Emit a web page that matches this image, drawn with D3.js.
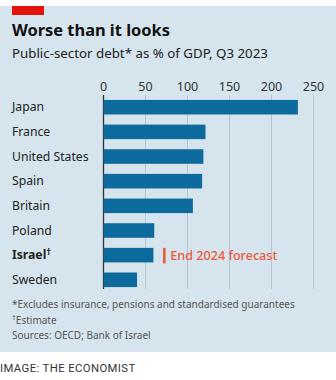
<!DOCTYPE html>
<html>
<head>
<meta charset="utf-8">
<script src="https://cdn.jsdelivr.net/npm/d3@7"></script>
<style>
  body { margin: 0; background: #fff; }
  svg { display: block; }
</style>
</head>
<body>
<div id="chart"></div>
<script>
// data
const countries = ["Japan", "France", "United States", "Spain", "Britain", "Poland", "Israel", "Sweden"];
const debt = [232, 122, 119.5, 118, 107, 61, 60, 40.5];
const ticks = [0, 50, 100, 150, 200, 250];
const israelForecast = 73;

const W = 336, H = 380;
const font = "'Noto Sans', 'Open Sans', sans-serif";

const svg = d3.select("#chart").append("svg")
    .attr("width", W)
    .attr("height", H);

// panel background
svg.append("rect")
    .attr("x", 0).attr("y", 6)
    .attr("width", W).attr("height", 346)
    .attr("fill", "#d5e4ed");

// red tag
svg.append("rect")
    .attr("x", 12).attr("y", 6)
    .attr("width", 32).attr("height", 9)
    .attr("fill", "#e3120b");

svg.append("text")
    .attr("x", 12).attr("y", 36)
    .attr("font-family", font)
    .attr("font-size", 16.4)
    .attr("font-weight", "bold")
    .attr("fill", "#111")
    .text("Worse than it looks");

svg.append("text")
    .attr("x", 12).attr("y", 58)
    .attr("font-family", font)
    .attr("font-size", 13.3)
    .attr("fill", "#222")
    .text("Public-sector debt* as % of GDP, Q3 2023");

const x = d3.scaleLinear()
    .domain([0, 250])
    .range([103, 313]);

const y = d3.scaleBand()
    .domain(countries)
    .range([95, 292])
    .paddingInner(0.41)
    .paddingOuter(0.2);

// gridlines + tick labels
const axis = svg.append("g")
    .attr("transform", "translate(0,95)")
    .call(d3.axisTop(x).tickValues(ticks).tickSize(-194).tickPadding(4));
axis.select(".domain").remove();
axis.selectAll(".tick line")
    .attr("stroke", d => d === 0 ? "#333" : "#b5c6d1")
    .attr("stroke-width", d => d === 0 ? 1.3 : 1);
axis.selectAll(".tick text")
    .attr("font-family", font)
    .attr("font-size", 12.5)
    .attr("fill", "#333");

// bars
svg.append("g").selectAll("rect")
    .data(countries)
    .join("rect")
    .attr("x", x(0) + 0.6)
    .attr("y", d => y(d))
    .attr("width", (d, i) => x(debt[i]) - x(0) - 0.6)
    .attr("height", y.bandwidth())
    .attr("fill", "#0c6a9c");

// country labels
const lab = svg.append("g").selectAll("text")
    .data(countries)
    .join("text")
    .attr("x", 12)
    .attr("y", d => y(d) + y.bandwidth() / 2)
    .attr("dy", "0.35em")
    .attr("font-family", font)
    .attr("font-size", 12.2)
    .attr("font-weight", d => d === "Israel" ? "bold" : "normal")
    .attr("fill", "#222")
    .text(d => d);
lab.filter(d => d === "Israel").append("tspan")
    .attr("font-size", 9.5)
    .attr("dy", "-0.45em")
    .text("\u2020");

// Israel forecast marker
const yi = y("Israel");
svg.append("line")
    .attr("x1", x(israelForecast)).attr("x2", x(israelForecast))
    .attr("y1", yi).attr("y2", yi + y.bandwidth() + 1)
    .attr("stroke", "#f0573a")
    .attr("stroke-width", 2.5);
svg.append("text")
    .attr("x", x(israelForecast) + 6)
    .attr("y", yi + y.bandwidth() / 2)
    .attr("dy", "0.35em")
    .attr("font-family", font)
    .attr("font-size", 12.6)
    .attr("font-weight", 500)
    .attr("fill", "#f0573a")
    .text("End 2024 forecast");

// footnotes
const notes = svg.append("g")
    .attr("font-family", font)
    .attr("font-size", 10)
    .attr("fill", "#555");
notes.append("text").attr("x", 12).attr("y", 308)
    .text("*Excludes insurance, pensions and standardised guarantees");
const est = notes.append("text").attr("x", 12).attr("y", 323);
est.append("tspan").attr("font-size", 7.5).attr("dy", "-0.35em").text("\u2020");
est.append("tspan").attr("dy", "0.35em").text("Estimate");
notes.append("text").attr("x", 12).attr("y", 339)
    .text("Sources: OECD; Bank of Israel");

svg.append("text")
    .attr("x", 0).attr("y", 372)
    .attr("font-family", "'Roboto', 'Liberation Sans', sans-serif")
    .attr("font-size", 11.3)
    .attr("letter-spacing", 0.4)
    .attr("fill", "#333")
    .text("IMAGE: THE ECONOMIST");
</script>
</body>
</html>
